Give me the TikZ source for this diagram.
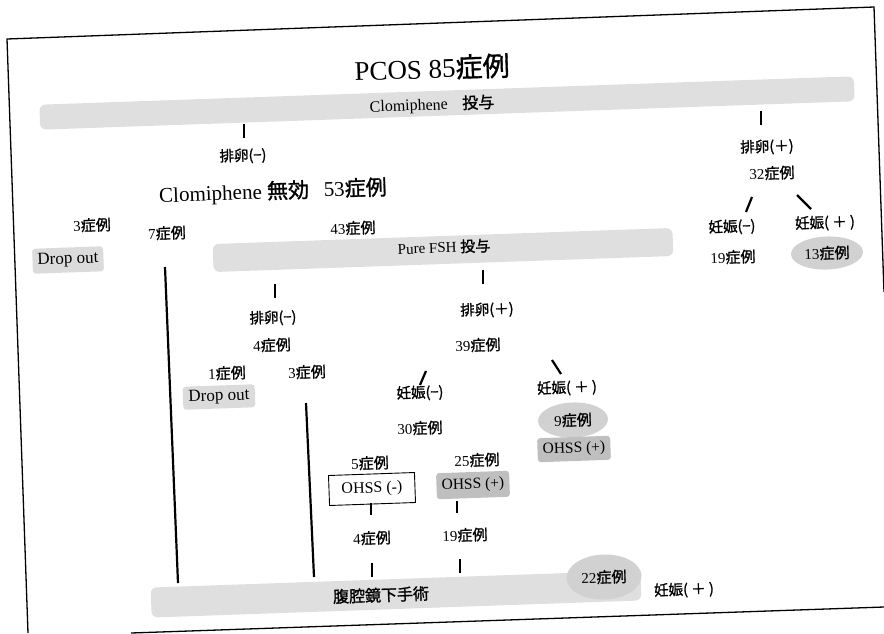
\documentclass[tikz,border=0pt]{standalone}
\usepackage{fontspec}
\usetikzlibrary{shapes.geometric}
\setmainfont{Liberation Serif}
\newfontfamily\cjk[FakeBold=1.3]{Noto Sans CJK JP}
\newcommand\jp[1]{{\cjk #1}}
\begin{document}
\begin{tikzpicture}[x=1pt,y=-1pt,
  lbl/.style={inner sep=0pt, rotate=2, font=\fontsize{15}{15}\selectfont},
  small/.style={lbl, font=\fontsize{14.5}{14.5}\selectfont},
  barbox/.style={fill=gray!25, rounded corners=6pt, rotate=2, inner sep=0pt},
  dropbox/.style={lbl, fill=gray!28, rounded corners=3pt, minimum width=71pt, minimum height=25pt, font=\fontsize{17}{17}\selectfont},
  oval/.style={lbl, ellipse, fill=gray!36, inner sep=0pt},
  ohssplus/.style={lbl, fill=gray!50, rounded corners=3pt, minimum width=73pt, minimum height=24pt, font=\fontsize{15.5}{15.5}\selectfont},
  ohssminus/.style={lbl, draw=black, line width=0.9pt, fill=white, minimum width=86pt, minimum height=30pt, font=\fontsize{16}{16}\selectfont},
  tick/.style={line width=2.2pt},
  longline/.style={line width=2.2pt},
  frameline/.style={line width=1.3pt}
]
\useasboundingbox (0,0) rectangle (884,633);

% frame
\coordinate (fBL) at (131,633);
\coordinate (fBR) at (884,607);
\coordinate (fLB) at (28,633);
\coordinate (fTL) at (7,39);
\coordinate (fTR) at (874,7);
\coordinate (fRB) at (884,292);
\draw[frameline] (fLB) -- (fTL) -- (fTR) -- (fRB);
\draw[frameline] (fBL) -- (fBR);

% top
\node[lbl, font=\fontsize{27}{27}\selectfont] (title) at (432,68) {PCOS 85\jp{症例}};
\node[barbox, minimum width=815pt, minimum height=25pt] (barC) at (447,103) {};
\node[lbl, font=\fontsize{16}{16}\selectfont] (txtC) at (432,105) {Clomiphene\hspace{0.9em}\jp{投与}};

\coordinate (t1a) at (244,124); \coordinate (t1b) at (244,138);
\draw[tick] (t1a) -- (t1b);
\node[small] (ovm1) at (243,156) {\jp{排卵(−)}};
\node[lbl, font=\fontsize{21}{21}\selectfont] (inval) at (273,192) {Clomiphene \jp{無効}\hspace{0.7em}53\jp{症例}};

\coordinate (t2a) at (761,111); \coordinate (t2b) at (761,125);
\draw[tick] (t2a) -- (t2b);
\node[small] (ovp1) at (767,147) {\jp{排卵(＋)}};
\node[lbl] (n32) at (772,173) {32\jp{症例}};
\coordinate (s1a) at (752,197); \coordinate (s1b) at (746,212);
\draw[tick] (s1a) -- (s1b);
\coordinate (s2a) at (797,195); \coordinate (s2b) at (811,209);
\draw[tick] (s2a) -- (s2b);
\node[small] (pgm1) at (732,227) {\jp{妊娠(−)}};
\node[small] (pgp1) at (825,223) {\jp{妊娠( ＋ )}};
\node[lbl] (n19a) at (733,257) {19\jp{症例}};
\node[oval, minimum width=72pt, minimum height=33pt] (n13) at (827,253) {13\jp{症例}};

% left column
\node[lbl] (n3a) at (92,225) {3\jp{症例}};
\node[dropbox] (drop1) at (68,260) {Drop out};
\node[lbl] (n7) at (167,233) {7\jp{症例}};
\node[lbl] (n43) at (353,228) {43\jp{症例}};
\node[barbox, minimum width=460pt, minimum height=28pt] (barF) at (443,250) {};
\node[lbl, font=\fontsize{15}{15}\selectfont] (txtF) at (444,247) {Pure FSH \jp{投与}};

\coordinate (t3a) at (275,284); \coordinate (t3b) at (275,298);
\draw[tick] (t3a) -- (t3b);
\coordinate (t4a) at (483,270); \coordinate (t4b) at (483,284);
\draw[tick] (t4a) -- (t4b);
\node[small] (ovm2) at (273,318) {\jp{排卵(−)}};
\node[small] (ovp2) at (487,310) {\jp{排卵(＋)}};
\node[lbl] (n4a) at (272,345) {4\jp{症例}};
\node[lbl] (n39) at (478,345) {39\jp{症例}};
\node[lbl] (n1) at (227,373) {1\jp{症例}};
\node[lbl] (n3b) at (307,372) {3\jp{症例}};
\node[dropbox, minimum width=72pt, minimum height=23pt] (drop2) at (219,397) {Drop out};

\coordinate (l7a) at (165,267); \coordinate (l7b) at (178,583);
\draw[longline] (l7a) -- (l7b);
\coordinate (l3a) at (306,403); \coordinate (l3b) at (314,577);
\draw[longline] (l3a) -- (l3b);

\coordinate (s3a) at (426,371); \coordinate (s3b) at (420,385);
\draw[tick] (s3a) -- (s3b);
\node[small] (pgm2) at (420,393) {\jp{妊娠(−)}};
\coordinate (s4a) at (552,360); \coordinate (s4b) at (561,374);
\draw[tick] (s4a) -- (s4b);
\node[small] (pgp2) at (567,388) {\jp{妊娠( ＋ )}};
\node[lbl] (n30) at (420,428) {30\jp{症例}};
\node[oval, minimum width=70pt, minimum height=35pt] (n9) at (573,420) {9\jp{症例}};
\node[ohssplus] (ohss1) at (574,449) {OHSS (+)};

\node[lbl] (n5) at (370,463) {5\jp{症例}};
\node[ohssminus] (ohssm) at (372,489) {OHSS (-)};
\node[lbl] (n25) at (477,460) {25\jp{症例}};
\node[ohssplus, minimum height=26pt] (ohss2) at (473,485) {OHSS (+)};

\coordinate (t5a) at (371,503); \coordinate (t5b) at (371,515);
\draw[tick] (t5a) -- (t5b);
\coordinate (t6a) at (457,501); \coordinate (t6b) at (457,513);
\draw[tick] (t6a) -- (t6b);
\node[lbl] (n4b) at (372,538) {4\jp{症例}};
\node[lbl] (n19b) at (465,535) {19\jp{症例}};
\coordinate (t7a) at (372,563); \coordinate (t7b) at (372,577);
\draw[tick] (t7a) -- (t7b);
\coordinate (t8a) at (460,559); \coordinate (t8b) at (460,573);
\draw[tick] (t8a) -- (t8b);

% bottom
\node[barbox, minimum width=490pt, minimum height=30pt] (barL) at (396,594) {};
\node[lbl, font=\fontsize{16}{16}\selectfont] (txtL) at (381,595) {\jp{腹腔鏡下手術}};
\node[oval, minimum width=75pt, minimum height=45pt] (n22) at (604,577) {22\jp{症例}};
\node[small] (pgp3) at (684,590) {\jp{妊娠( ＋ )}};
\end{tikzpicture}
\end{document}
